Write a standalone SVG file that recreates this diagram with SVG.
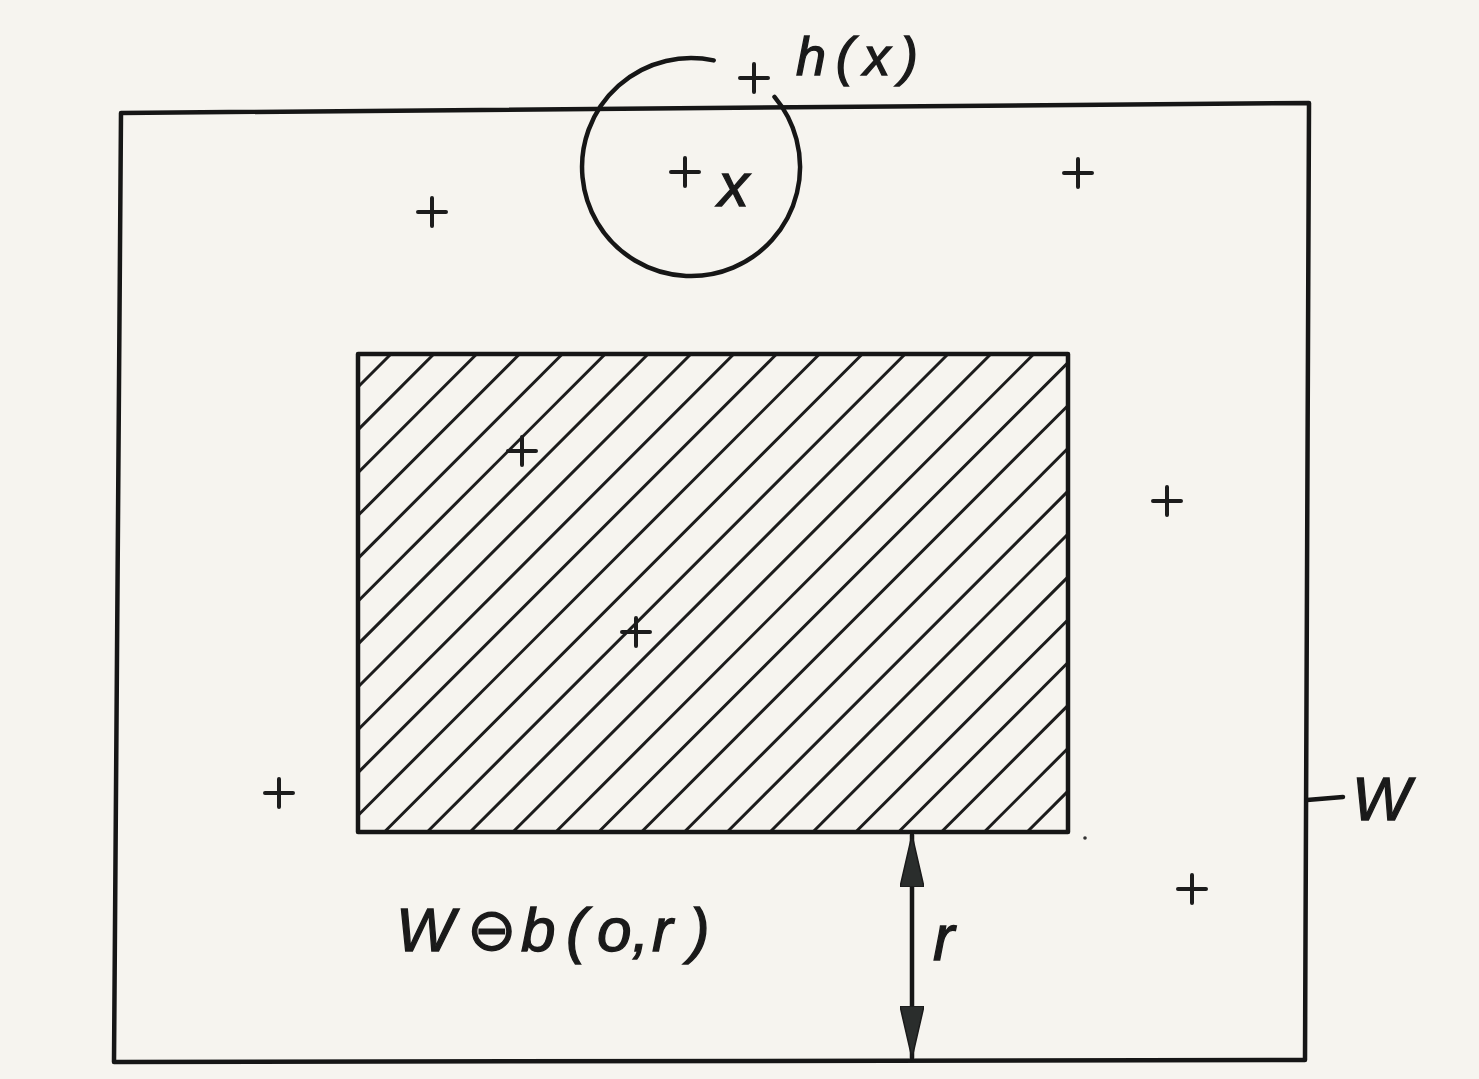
<svg xmlns="http://www.w3.org/2000/svg" width="1479" height="1079" viewBox="0 0 1479 1079">
  <defs>
    <style>
      .edge { fill: none; stroke: #161616; stroke-width: 4.5; stroke-linejoin: round; stroke-linecap: round; }
      .hatch { stroke: #1c1c1c; stroke-width: 3; stroke-linecap: round; }
      .pt { fill: none; stroke: #1c1c1c; stroke-width: 4; stroke-linecap: round; }
      .lbl { font-family: "Liberation Sans", "DejaVu Sans", sans-serif; font-style: italic; fill: #1a1a1a; stroke: #1a1a1a; stroke-width: 1.3; }
    </style>
    <marker id="ah" viewBox="0 -12 52 24" refX="52" refY="0" markerWidth="52" markerHeight="24" markerUnits="userSpaceOnUse" orient="auto-start-reverse">
      <path d="M0,-12 L52,0 L0,12 Z" fill="#2a2d2c" stroke="#1a1a1a" stroke-width="1.5" stroke-linejoin="round"/>
    </marker>
    <symbol id="plus" overflow="visible">
      <path class="pt" d="M-14,0 H14 M0,-14 V14"/>
    </symbol>
  </defs>

  <rect x="0" y="0" width="1479" height="1079" fill="#f6f4ef"/>

  <g id="window-W">
    <polygon class="edge" points="121,113 1309,103 1305,1060 114,1062"/>
  </g>

  <g id="eroded-window">
    <g id="hatching">
      <line class="hatch" x1="358" y1="387" x2="391" y2="354"/>
      <line class="hatch" x1="358" y1="429.85" x2="433.85" y2="354"/>
      <line class="hatch" x1="358" y1="472.7" x2="476.7" y2="354"/>
      <line class="hatch" x1="358" y1="515.55" x2="519.55" y2="354"/>
      <line class="hatch" x1="358" y1="558.4" x2="562.4" y2="354"/>
      <line class="hatch" x1="358" y1="601.25" x2="605.25" y2="354"/>
      <line class="hatch" x1="358" y1="644.1" x2="648.1" y2="354"/>
      <line class="hatch" x1="358" y1="686.95" x2="690.95" y2="354"/>
      <line class="hatch" x1="358" y1="729.8" x2="733.8" y2="354"/>
      <line class="hatch" x1="358" y1="772.65" x2="776.65" y2="354"/>
      <line class="hatch" x1="358" y1="815.5" x2="819.5" y2="354"/>
      <line class="hatch" x1="384.35" y1="832" x2="862.35" y2="354"/>
      <line class="hatch" x1="427.2" y1="832" x2="905.2" y2="354"/>
      <line class="hatch" x1="470.05" y1="832" x2="948.05" y2="354"/>
      <line class="hatch" x1="512.9" y1="832" x2="990.9" y2="354"/>
      <line class="hatch" x1="555.75" y1="832" x2="1033.75" y2="354"/>
      <line class="hatch" x1="598.6" y1="832" x2="1068" y2="362.6"/>
      <line class="hatch" x1="641.45" y1="832" x2="1068" y2="405.45"/>
      <line class="hatch" x1="684.3" y1="832" x2="1068" y2="448.3"/>
      <line class="hatch" x1="727.15" y1="832" x2="1068" y2="491.15"/>
      <line class="hatch" x1="770" y1="832" x2="1068" y2="534"/>
      <line class="hatch" x1="812.85" y1="832" x2="1068" y2="576.85"/>
      <line class="hatch" x1="855.7" y1="832" x2="1068" y2="619.7"/>
      <line class="hatch" x1="898.55" y1="832" x2="1068" y2="662.55"/>
      <line class="hatch" x1="941.4" y1="832" x2="1068" y2="705.4"/>
      <line class="hatch" x1="984.25" y1="832" x2="1068" y2="748.25"/>
      <line class="hatch" x1="1027.1" y1="832" x2="1068" y2="791.1"/>
    </g>
    <rect class="edge" x="358" y="354" width="710" height="478"/>
  </g>

  <g id="disc-h">
    <path class="edge" d="M774.5,96.9 A109,109 0 1 1 713.7,60.4"/>
  </g>

  <g id="points">
    <use href="#plus" x="754" y="78"/>
    <use href="#plus" x="685" y="172"/>
    <use href="#plus" x="432" y="212"/>
    <use href="#plus" x="1078" y="173"/>
    <use href="#plus" x="522" y="451"/>
    <use href="#plus" x="636" y="632"/>
    <use href="#plus" x="1167" y="501"/>
    <use href="#plus" x="279" y="793"/>
    <use href="#plus" x="1192" y="889"/>
  </g>

  <g id="connectors">
    <line class="edge" x1="912" y1="835" x2="912" y2="1058" marker-start="url(#ah)" marker-end="url(#ah)"/>
    <line class="edge" x1="1307" y1="800" x2="1343" y2="797"/>
  </g>

  <g id="labels">
    <text class="lbl" x="796" y="75" font-size="54" textLength="122" lengthAdjust="spacing">h(x)</text>
    <text class="lbl" x="718" y="206" font-size="62">x</text>
    <text class="lbl" x="1352" y="820" font-size="62">W</text>
    <text class="lbl" font-size="62" y="951"><tspan x="396">W</tspan><tspan x="467" y="950" font-size="59">⊖</tspan><tspan x="521 566 597 632 652 689" y="951">b(o,r)</tspan></text>
    <text class="lbl" x="933" y="960" font-size="64">r</text>
  </g>

  <circle cx="1085" cy="838" r="1.8" fill="#333"/>
</svg>
